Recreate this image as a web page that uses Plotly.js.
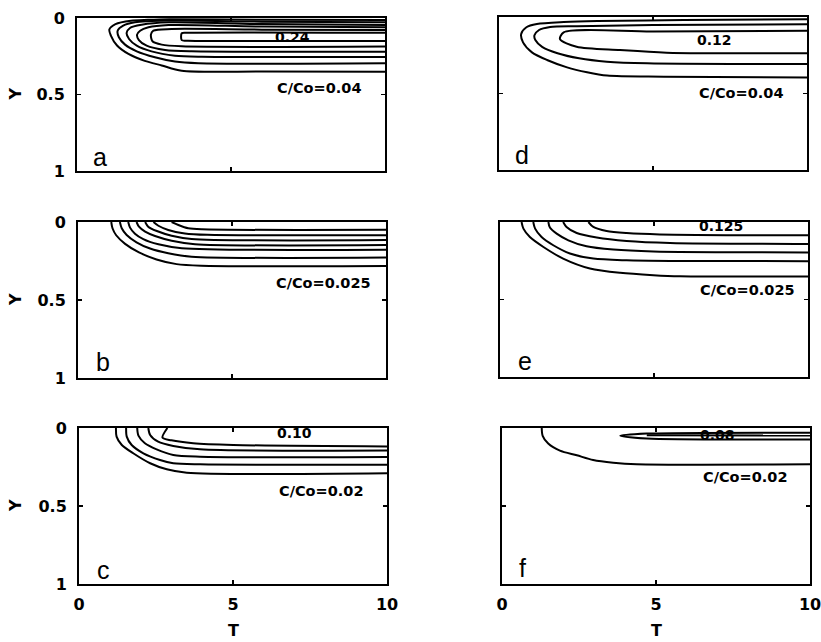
<!DOCTYPE html>
<html><head><meta charset="utf-8">
<script src="https://cdn.plot.ly/plotly-3.0.1.min.js"></script>
<style>html,body{margin:0;padding:0;background:#fff}</style>
</head><body><div id="chart" style="width:821px;height:642px"></div>
<script>
// ---------- data ----------
const tickValsT = [0, 5, 10];
const tickValsY = [0, 0.5, 1];
const panelLetters = ['a', 'd', 'b', 'e', 'c', 'f'];
const letterT = [0.76, 0.75, 0.81, 0.8, 0.8, 0.67];
const letterY = [0.91, 0.9, 0.9, 0.9, 0.91, 0.9];
const peakLabels = ['0.24', '0.12', '0.175', '0.125', '0.10', '0.08'];
const peakLabelT = [7.0, 7.0, 7.16, 7.19, 7.0, 7.0];
const peakLabelY = [0.124, 0.15, -0.045, 0.028, 0.035, 0.042];
const baseLabels = ['C/Co=0.04', 'C/Co=0.04', 'C/Co=0.025', 'C/Co=0.025', 'C/Co=0.02', 'C/Co=0.02'];
const baseLabelT = [7.86, 7.87, 7.97, 8.04, 7.87, 7.89];
const baseLabelY = [0.46, 0.497, 0.388, 0.44, 0.404, 0.317];

// panel a : contour lines (T, Y)
const aT = [
  [10, 6, 3.0, 2.3, 1.75, 1.25, 1.05, 1.1, 1.3, 1.67, 2.2, 2.75, 3.4, 6, 10],
  [10, 6, 2.97, 1.88, 1.5, 1.32, 1.36, 1.56, 1.94, 2.53, 3.18, 3.94, 10],
  [10, 6, 2.97, 2.1, 1.72, 1.61, 1.69, 1.94, 2.42, 3.18, 4.05, 10],
  [10, 6, 2.97, 2.32, 2.05, 1.95, 2.01, 2.26, 2.86, 3.72, 10],
  [10, 6, 3.07, 2.48, 2.4, 2.45, 2.75, 3.4, 10],
  [10, 3.6, 3.4, 3.4, 3.6, 10]
];
const aY = [
  [0.013, 0.011, 0.008, 0.012, 0.018, 0.04, 0.075, 0.115, 0.18, 0.235, 0.28, 0.31, 0.345, 0.35, 0.351],
  [0.028, 0.024, 0.017, 0.028, 0.05, 0.083, 0.126, 0.174, 0.218, 0.257, 0.285, 0.296, 0.296],
  [0.046, 0.04, 0.028, 0.044, 0.065, 0.098, 0.137, 0.181, 0.218, 0.246, 0.253, 0.255],
  [0.061, 0.056, 0.046, 0.061, 0.083, 0.109, 0.144, 0.181, 0.209, 0.218, 0.22],
  [0.078, 0.076, 0.072, 0.083, 0.109, 0.152, 0.174, 0.185, 0.186],
  [0.097, 0.097, 0.1, 0.145, 0.148, 0.15]
];
// panel d
const dT = [
  [10, 6, 3.2, 2.1, 1.23, 0.89, 0.72, 0.78, 1.07, 1.56, 2.21, 2.86, 3.51, 5.35, 10],
  [10, 5, 2.53, 1.66, 1.3, 1.15, 1.18, 1.4, 1.9, 2.6, 3.5, 4.81, 10],
  [10, 5, 2.1, 1.98, 2.52, 3.93, 5.44, 10]
];
const dY = [
  [0.015, 0.02, 0.026, 0.033, 0.046, 0.067, 0.111, 0.166, 0.231, 0.281, 0.329, 0.361, 0.383, 0.39, 0.395],
  [0.048, 0.053, 0.06, 0.065, 0.085, 0.12, 0.15, 0.195, 0.237, 0.27, 0.292, 0.303, 0.308],
  [0.09, 0.094, 0.1, 0.145, 0.194, 0.216, 0.233, 0.237]
];
// panel b
const bT = [
  [1.08, 1.12, 1.24, 1.53, 1.98, 2.55, 3.2, 4.0, 10],
  [1.36, 1.42, 1.58, 1.9, 2.34, 2.93, 3.69, 10],
  [1.63, 1.69, 1.85, 2.12, 2.61, 3.37, 10],
  [1.9, 1.98, 2.18, 2.5, 3.04, 3.8, 10],
  [2.18, 2.28, 2.56, 3.04, 3.69, 10],
  [2.45, 2.61, 2.93, 3.47, 4.2, 10],
  [3.04, 3.26, 3.58, 4.02, 10]
];
const bY = [
  [0, 0.04, 0.085, 0.14, 0.195, 0.24, 0.27, 0.28, 0.282],
  [0, 0.04, 0.083, 0.13, 0.17, 0.2, 0.222, 0.228],
  [0, 0.036, 0.075, 0.11, 0.143, 0.168, 0.178],
  [0, 0.03, 0.062, 0.09, 0.12, 0.142, 0.148],
  [0, 0.03, 0.058, 0.088, 0.109, 0.116],
  [0, 0.024, 0.051, 0.073, 0.082, 0.085],
  [0, 0.019, 0.04, 0.047, 0.05]
];
// panel e
const eT = [
  [0.7, 0.76, 0.97, 1.41, 2.05, 2.92, 3.9, 4.98, 5.84, 10],
  [1.08, 1.14, 1.35, 1.73, 2.27, 3.03, 4.11, 5.63, 10],
  [1.57, 1.62, 1.84, 2.22, 2.81, 3.68, 4.98, 10],
  [2.05, 2.16, 2.49, 3.14, 4.11, 5.52, 10],
  [2.87, 3.03, 3.46, 4.11, 5.19, 10]
];
const eY = [
  [0, 0.043, 0.097, 0.161, 0.236, 0.3, 0.328, 0.343, 0.35, 0.352],
  [0, 0.043, 0.097, 0.15, 0.203, 0.236, 0.247, 0.251, 0.253],
  [0, 0.036, 0.075, 0.118, 0.157, 0.178, 0.19, 0.196],
  [0, 0.032, 0.071, 0.1, 0.122, 0.135, 0.142],
  [0, 0.032, 0.058, 0.071, 0.08, 0.086]
];
// panel c
const cT = [
  [1.2, 1.22, 1.39, 1.76, 2.31, 2.85, 3.5, 10],
  [1.53, 1.55, 1.71, 2.09, 2.63, 3.06, 3.93, 10],
  [1.89, 1.93, 2.14, 2.52, 3.06, 3.93, 10],
  [2.25, 2.31, 2.57, 3.06, 3.93, 10],
  [2.87, 2.71, 3.0, 3.71, 5.01, 10]
];
const cY = [
  [0, 0.055, 0.109, 0.162, 0.226, 0.265, 0.287, 0.29],
  [0, 0.055, 0.109, 0.162, 0.205, 0.226, 0.233, 0.235],
  [0, 0.049, 0.098, 0.137, 0.173, 0.184, 0.186],
  [0, 0.045, 0.088, 0.115, 0.137, 0.145],
  [0, 0.062, 0.079, 0.098, 0.109, 0.118]
];
// panel f
const fT = [
  [1.29, 1.32, 1.5, 1.88, 2.43, 2.96, 3.61, 4.37, 10],
  [10, 4.7, 3.84, 4.7, 10],
  [4.7, 10]
];
const fY = [
  [0, 0.05, 0.1, 0.145, 0.175, 0.205, 0.222, 0.232, 0.233],
  [0.03, 0.036, 0.05, 0.068, 0.073],
  [0.047, 0.048]
];

// ---------- layout / drawing ----------
const W = 821, H = 642;
const panelT = [aT, dT, bT, eT, cT, fT];
const panelY = [aY, dY, bY, eY, cY, fY];
// pixel boxes [left, right, top, bottom]
const boxes = [
  [77, 385, 18, 171], [499, 807, 17, 170],
  [78, 386, 222, 378], [500, 808, 222, 377],
  [79, 387, 428, 584], [502, 810, 428, 584]
];
const traces = [];
const layout = {
  width: W, height: H, margin: {l: 0, r: 0, t: 0, b: 0},
  paper_bgcolor: '#fff', plot_bgcolor: '#fff', showlegend: false,
  annotations: []
};
const tickFont = {family: 'DejaVu Sans', size: 16, weight: 700, color: '#000'};
const lblFont = {family: 'DejaVu Sans', size: 14.5, weight: 700, color: '#000'};
const pkFont = {family: 'DejaVu Sans', size: 14, weight: 700, color: '#000'};

boxes.forEach((b, i) => {
  const n = i + 1;
  const xa = 'xaxis' + (n === 1 ? '' : n), ya = 'yaxis' + (n === 1 ? '' : n);
  const xr = 'x' + (n === 1 ? '' : n), yr = 'y' + (n === 1 ? '' : n);
  const leftCol = (i % 2 === 0), bottomRow = (i >= 4);
  const common = {
    showline: true, mirror: 'ticks', linecolor: '#000', linewidth: 2,
    ticks: 'inside', ticklen: 4, tickwidth: 1.5, tickcolor: '#000',
    showgrid: false, zeroline: false, tickfont: tickFont, fixedrange: true,
    ticklabeloverflow: 'allow'
  };
  layout[xa] = Object.assign({}, common, {
    domain: [b[0] / W, b[1] / W], range: [0, 10], anchor: yr,
    tickmode: 'array', tickvals: tickValsT, showticklabels: bottomRow,
    ticklabelstandoff: 5
  });
  layout[ya] = Object.assign({}, common, {
    domain: [1 - b[3] / H, 1 - b[2] / H], range: [1, 0], anchor: xr,
    tickmode: 'array', tickvals: tickValsY, showticklabels: leftCol,
    ticklabelstandoff: 7
  });
  panelT[i].forEach((tt, k) => {
    traces.push({
      type: 'scatter', mode: 'lines', x: tt, y: panelY[i][k],
      xaxis: xr, yaxis: yr, hoverinfo: 'skip',
      line: {color: '#000', width: 2, shape: 'spline', smoothing: 0.8}
    });
  });
  layout.annotations.push(
    {xref: xr, yref: yr, x: letterT[i], y: letterY[i], text: panelLetters[i], showarrow: false,
     font: {family: 'Liberation Sans', size: 25, color: '#000'}, xanchor: 'center', yanchor: 'middle'},
    {xref: xr, yref: yr, x: peakLabelT[i], y: peakLabelY[i], text: peakLabels[i], showarrow: false,
     font: pkFont, xanchor: 'center', yanchor: 'middle'},
    {xref: xr, yref: yr, x: baseLabelT[i], y: baseLabelY[i], text: baseLabels[i], showarrow: false,
     font: lblFont, xanchor: 'center', yanchor: 'middle'}
  );
  if (leftCol) {
    layout.annotations.push({xref: 'paper', yref: 'paper', x: 15 / W, y: 1 - (b[2] + b[3]) / 2 / H,
      text: 'Y', textangle: -90, showarrow: false, font: tickFont, xanchor: 'center', yanchor: 'middle'});
  }
  if (bottomRow) {
    layout.annotations.push({xref: 'paper', yref: 'paper', x: (b[0] + b[1]) / 2 / W, y: 1 - 630 / H,
      text: 'T', showarrow: false, font: tickFont, xanchor: 'center', yanchor: 'middle'});
  }
});

Plotly.newPlot('chart', traces, layout, {staticPlot: true, displayModeBar: false});
</script></body></html>
